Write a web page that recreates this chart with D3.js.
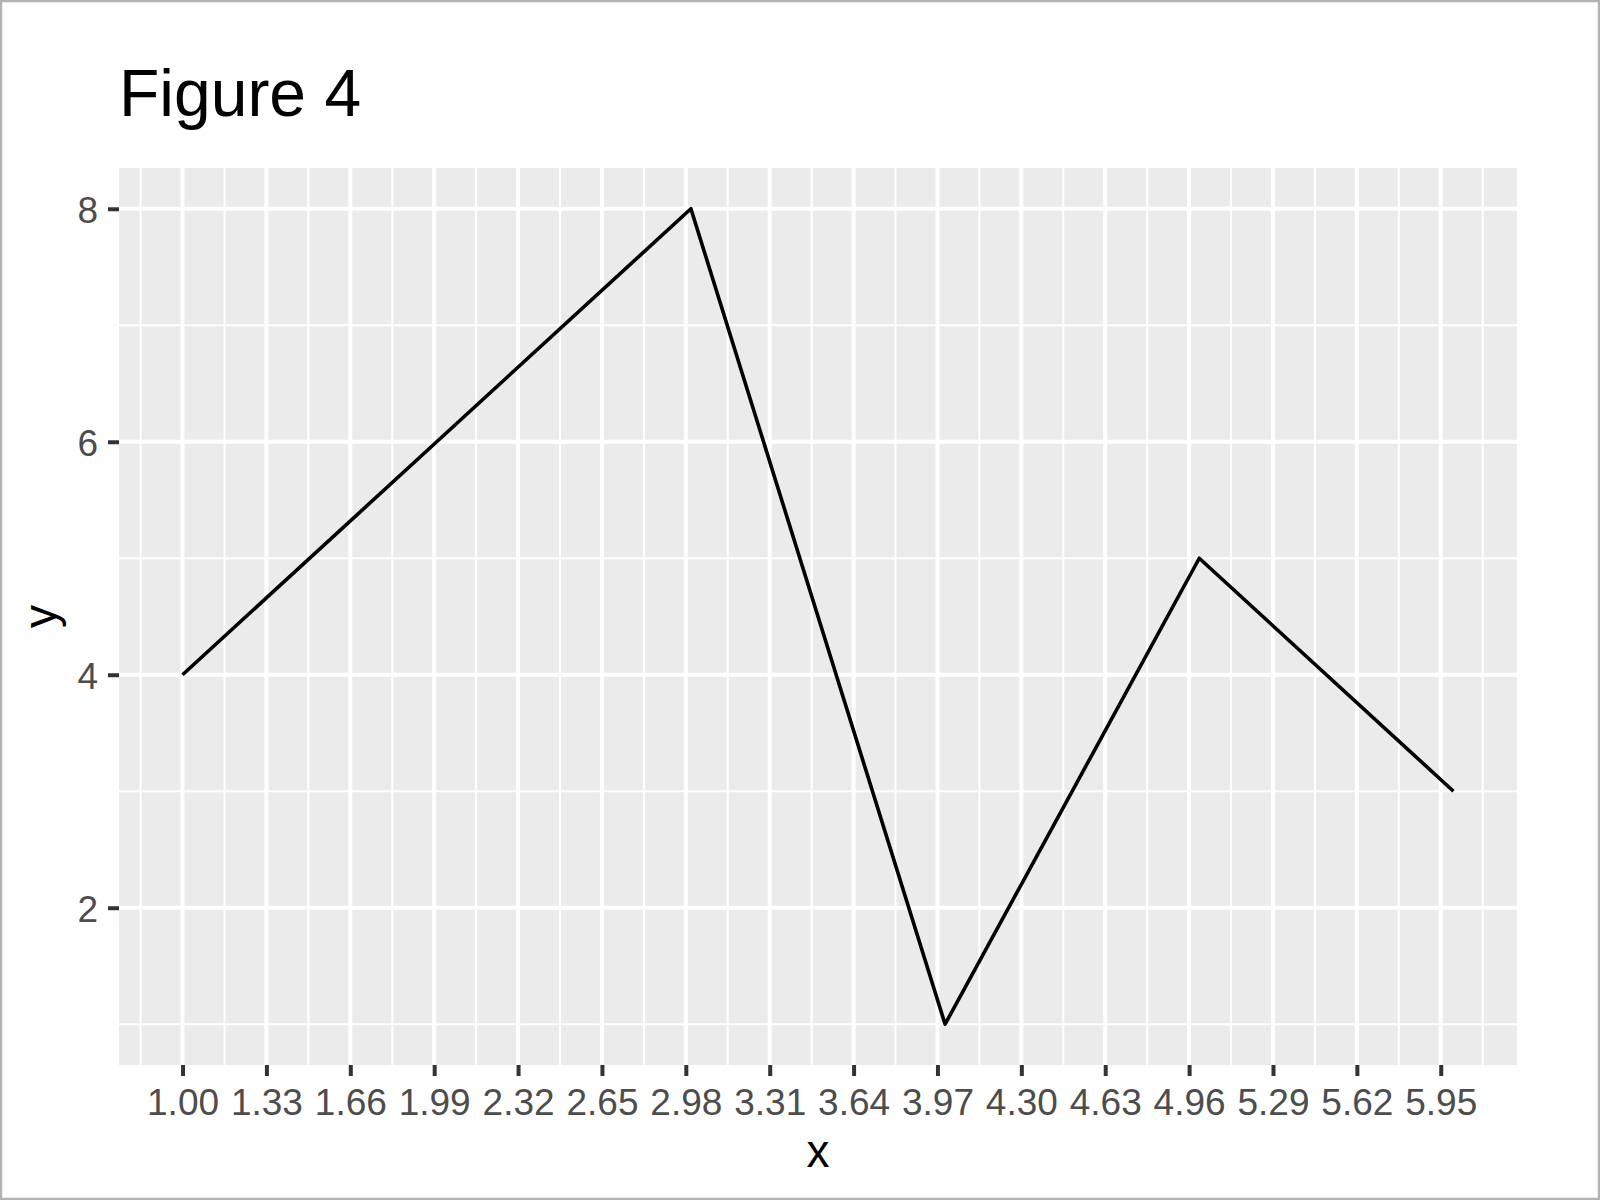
<!DOCTYPE html>
<html>
<head>
<meta charset="utf-8">
<script src="https://cdn.jsdelivr.net/npm/d3@7"></script>
<style>
  body { margin: 0; background: #fff; }
  text { font-family: "Liberation Sans", Arial, sans-serif; }
</style>
</head>
<body>
<svg id="chart" width="1600" height="1200"></svg>
<script>
// data
const xValues = [1, 2, 3, 4, 5, 6];
const yValues = [4, 6, 8, 1, 5, 3];
const xTicks = [1.00, 1.33, 1.66, 1.99, 2.32, 2.65, 2.98, 3.31, 3.64, 3.97, 4.30, 4.63, 4.96, 5.29, 5.62, 5.95];
const yTicks = [2, 4, 6, 8];
const yMinorTicks = [1, 3, 5, 7];
const titleText = 'Figure 4';

const width = 1600, height = 1200;
const panel = { left: 119, right: 1517, top: 168, bottom: 1065 };

const svg = d3.select('#chart');

// outer border
svg.append('rect')
  .attr('x', 1).attr('y', 1)
  .attr('width', width - 2).attr('height', height - 2)
  .attr('fill', '#fff')
  .attr('stroke', '#b3b3b3')
  .attr('stroke-width', 2.5);

// 5% expansion like ggplot
const xExt = d3.extent(xValues), yExt = d3.extent(yValues);
const xPad = (xExt[1] - xExt[0]) * 0.05, yPad = (yExt[1] - yExt[0]) * 0.05;

const x = d3.scaleLinear()
  .domain([xExt[0] - xPad, xExt[1] + xPad])
  .range([panel.left, panel.right]);

const y = d3.scaleLinear()
  .domain([yExt[0] - yPad, yExt[1] + yPad])
  .range([panel.bottom, panel.top]);

// minor x breaks: midpoints plus one step beyond each end (if inside the panel)
const xStep = xTicks[1] - xTicks[0];
const xMinor = [xTicks[0] - xStep / 2]
  .concat(xTicks.slice(1).map((t, i) => (t + xTicks[i]) / 2))
  .concat([xTicks[xTicks.length - 1] + xStep / 2])
  .filter(v => v >= x.domain()[0] && v <= x.domain()[1]);

// panel background
svg.append('rect')
  .attr('x', panel.left).attr('y', panel.top)
  .attr('width', panel.right - panel.left)
  .attr('height', panel.bottom - panel.top)
  .attr('fill', '#ebebeb');

const grid = svg.append('g').attr('class', 'grid').attr('stroke', '#fff');

grid.selectAll('.vminor').data(xMinor).enter().append('line')
  .attr('x1', d => x(d)).attr('x2', d => x(d))
  .attr('y1', panel.top).attr('y2', panel.bottom)
  .attr('stroke-width', 2);

grid.selectAll('.hminor').data(yMinorTicks).enter().append('line')
  .attr('y1', d => y(d)).attr('y2', d => y(d))
  .attr('x1', panel.left).attr('x2', panel.right)
  .attr('stroke-width', 2);

grid.selectAll('.vmajor').data(xTicks).enter().append('line')
  .attr('x1', d => x(d)).attr('x2', d => x(d))
  .attr('y1', panel.top).attr('y2', panel.bottom)
  .attr('stroke-width', 4);

grid.selectAll('.hmajor').data(yTicks).enter().append('line')
  .attr('y1', d => y(d)).attr('y2', d => y(d))
  .attr('x1', panel.left).attr('x2', panel.right)
  .attr('stroke-width', 4);

// line
const line = d3.line()
  .x((d, i) => x(xValues[i]))
  .y(d => y(d));

svg.append('path')
  .datum(yValues)
  .attr('d', line)
  .attr('fill', 'none')
  .attr('stroke', '#000')
  .attr('stroke-width', 3.6)
  .attr('stroke-linejoin', 'round');

// axes
const xAxis = svg.append('g')
  .attr('transform', `translate(0, ${panel.bottom})`)
  .call(d3.axisBottom(x).tickValues(xTicks).tickFormat(d3.format('.2f')).tickSize(11).tickPadding(13));

const yAxis = svg.append('g')
  .attr('transform', `translate(${panel.left}, 0)`)
  .call(d3.axisLeft(y).tickValues(yTicks).tickSize(11).tickPadding(10));

[xAxis, yAxis].forEach(ax => {
  ax.select('.domain').remove();
  ax.selectAll('.tick line').attr('stroke', '#333').attr('stroke-width', 4);
  ax.selectAll('.tick text')
    .attr('fill', '#4d4d4d')
    .style('font-size', '37px')
    .style('font-family', '"Liberation Sans", Arial, sans-serif');
});

xAxis.selectAll('.tick text').attr('dy', null).attr('y', 50);
yAxis.selectAll('.tick text').attr('dy', '0.36em');

// axis titles
svg.append('text')
  .attr('x', (panel.left + panel.right) / 2)
  .attr('y', 1167)
  .attr('text-anchor', 'middle')
  .style('font-size', '46px')
  .text('x');

svg.append('text')
  .attr('transform', `translate(56, ${(panel.top + panel.bottom) / 2}) rotate(-90)`)
  .attr('text-anchor', 'middle')
  .style('font-size', '46px')
  .text('y');

// title
svg.append('text')
  .attr('x', 119)
  .attr('y', 116)
  .style('font-size', '66px')
  .text(titleText);
</script>
</body>
</html>
